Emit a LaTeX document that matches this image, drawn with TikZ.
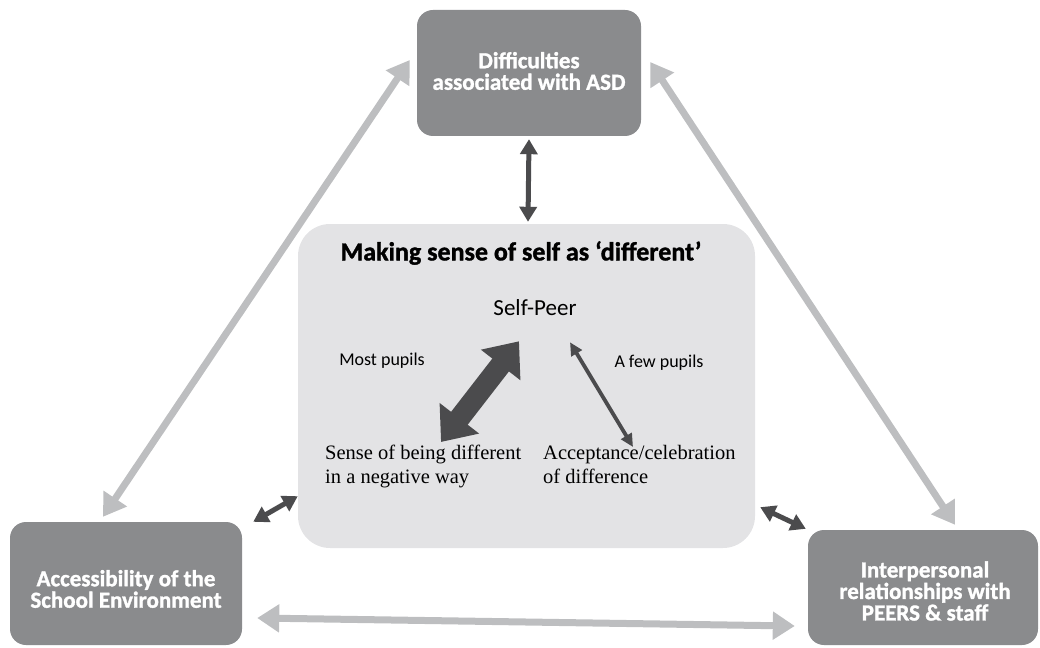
\documentclass[tikz,border=0pt]{standalone}
\usepackage{fontspec}
\setmainfont{Liberation Serif}
\newfontfamily\calfont{Carlito}
\newfontfamily\calheavy{Carlito}[BoldFeatures={FakeBold=1.3}]
\usetikzlibrary{arrows.meta,calc}
\definecolor{boxgrey}{HTML}{8A8B8D}
\definecolor{panelgrey}{HTML}{E3E3E5}
\definecolor{lightarrow}{HTML}{BDBEC0}
\definecolor{darkarrow}{HTML}{4B4B4D}
\begin{document}
\begin{tikzpicture}[x=1pt,y=-1pt,
  outerbox/.style={draw=none,fill=boxgrey,rounded corners=16pt},
  boxtext/.style={align=center,inner sep=0pt,text=white,
    font=\calheavy\bfseries\fontsize{23}{21.5}\selectfont},
  panel/.style={draw=none,fill=panelgrey,rounded corners=32pt},
  lightarr/.style={draw=lightarrow,line width=7pt,
    {Triangle[length=22pt,width=27pt]}-{Triangle[length=22pt,width=27pt]}},
  darkarr/.style={draw=darkarrow,line width=5pt,
    {Triangle[length=15pt,width=17pt]}-{Triangle[length=15pt,width=17pt]}},
  bigarr/.style={draw=darkarrow,line width=21pt,
    {Triangle[length=30pt,width=48pt]}-{Triangle[length=30pt,width=48pt]}},
  thinarr/.style={draw=darkarrow,line width=3.8pt,
    {Triangle[length=13pt,width=12pt]}-{Triangle[length=13pt,width=12pt]}},
  sertext/.style={align=left,inner sep=0pt,font=\fontsize{20.5}{24}\selectfont},
  smalltext/.style={inner sep=0pt,font=\calfont\fontsize{18}{20}\selectfont}]
\useasboundingbox (0,0) rectangle (1040,647);

% the four blocks
\node[outerbox,minimum width=224pt,minimum height=126pt] (asd) at (529,73) {};
\node[boxtext] (asdtext) at (529,71) {Difficulties\\associated with ASD};
\node[panel,minimum width=457pt,minimum height=324pt] (self) at (526.5,386) {};
\node[outerbox,minimum width=232pt,minimum height=123pt] (school) at (126,583.5) {};
\node[boxtext] (schooltext) at (126,589) {Accessibility of the\\School Environment};
\node[outerbox,minimum width=230pt,minimum height=115pt] (peers) at (923,587.5) {};
\node[boxtext] (peerstext) at (925,591) {Interpersonal\\relationships with\\PEERS \& staff};

% contents of the central panel
\node[inner sep=0pt,font=\calheavy\bfseries\fontsize{26}{28}\selectfont] (title) at (521,253)
  {Making sense of self as ‘different’};
\node[inner sep=0pt,font=\calfont\fontsize{23}{24}\selectfont] (selfpeer) at (535,308) {Self-Peer};
\node[smalltext] (most) at (382,361) {Most pupils};
\node[smalltext] (few) at (659,363) {A few pupils};
\node[sertext,anchor=north west] (neg) at (325,445)
  {Sense of being different\\in a negative way};
\node[sertext,anchor=north west] (acc) at (543,445)
  {Acceptance/celebration\\ of difference};

% arrows inside the panel
\draw[bigarr] ($(selfpeer.south)+(-16,25)$) -- ($(neg.north west)+(116,-3)$);
\draw[thinarr] ($(selfpeer.south)+(35,26)$) -- ($(acc.north west)+(90,2)$);

% light grey links between the outer blocks
\draw[lightarr] ($(asd.west)+(-7,-13)$) -- ($(school.north)+(-23,-5)$);
\draw[lightarr] ($(asd.east)+(9,-11)$) -- ($(peers.north)+(32,-5)$);
\draw[lightarr] ($(school.east)+(15,34.5)$) -- ($(peers.west)+(-13,38.5)$);

% dark links between the panel and the outer blocks
\draw[darkarr] ($(asd.south)+(0,3)$) -- ($(self.north)+(1.5,-2)$);
\draw[darkarr] ($(school.north east)+(11,0)$) -- ($(self.south west)+(0,-52)$);
\draw[darkarr] ($(self.south east)+(5,-41)$) -- ($(peers.north west)+(-2,-1)$);
\end{tikzpicture}
\end{document}
